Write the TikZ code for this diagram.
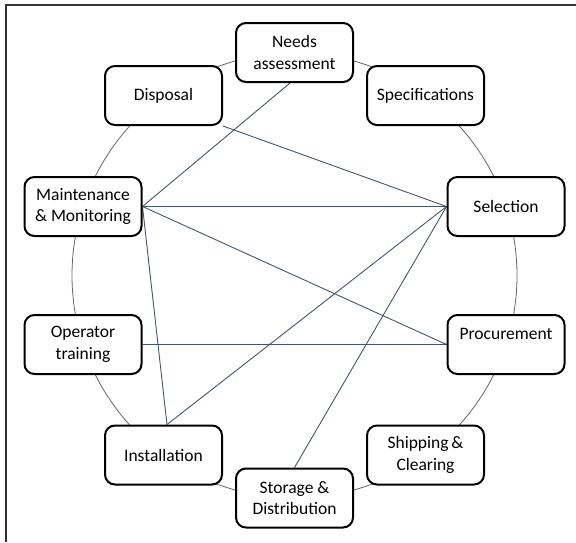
\documentclass[tikz,border=0pt]{standalone}
\usepackage{fontspec}
\setmainfont{Carlito}
\usetikzlibrary{backgrounds}
\definecolor{linkc}{HTML}{44546A}
\begin{document}
\begin{tikzpicture}[x=1pt,y=-1pt,
  stage/.style={draw=black, line width=2pt, rounded corners=10pt, fill=white,
    minimum width=117pt, minimum height=59pt, inner sep=0pt, align=center,
    font=\fontsize{17.5pt}{21.5pt}\selectfont},
  link/.style={draw=linkc, line width=0.9pt},
  ring/.style={draw=black!60, line width=0.8pt},
  frame/.style={draw=black!80, line width=1.3pt}]
\useasboundingbox (0,0) rectangle (576,542);
\draw[frame] (6,542) -- (6,5) -- (576,5);
\coordinate (C) at (294.5,275.5);
\node[stage] (N) at (294.5,52.5) {Needs\\assessment};
\node[stage] (Sp) at (425.5,95.5) {Specifications};
\node[stage] (Se) at (506,206.5) {Selection};
\node[stage] (P) at (506,344.5) {Procurement\\\mbox{}};
\node[stage] (Sh) at (425.5,455) {Shipping\,\&\\Clearing};
\node[stage] (St) at (294.5,498) {Storage \&\\Distribution};
\node[stage] (I) at (163.5,455) {Installation};
\node[stage] (O) at (83,344.5) {Operator\\training};
\node[stage] (M) at (83,206.5) {Maintenance\\\& Monitoring};
\node[stage] (D) at (163.5,95.5) {Disposal};
\begin{scope}[on background layer]
  \draw[ring] (C) circle[radius=222.5pt];
  \draw[link] ([xshift=-4.5pt]N.south) -- (M.east);
  \draw[link] (D.south east) -- (Se.west);
  \draw[link] (M.east) -- (Se.west);
  \draw[link] (M.east) -- (P.west);
  \draw[link] (M.east) -- ([xshift=3.5pt]I.north);
  \draw[link] ([xshift=3.5pt]I.north) -- (Se.west);
  \draw[link] (St.north) -- (Se.west);
  \draw[link] (O.east) -- (P.west);
\end{scope}
\end{tikzpicture}
\end{document}
